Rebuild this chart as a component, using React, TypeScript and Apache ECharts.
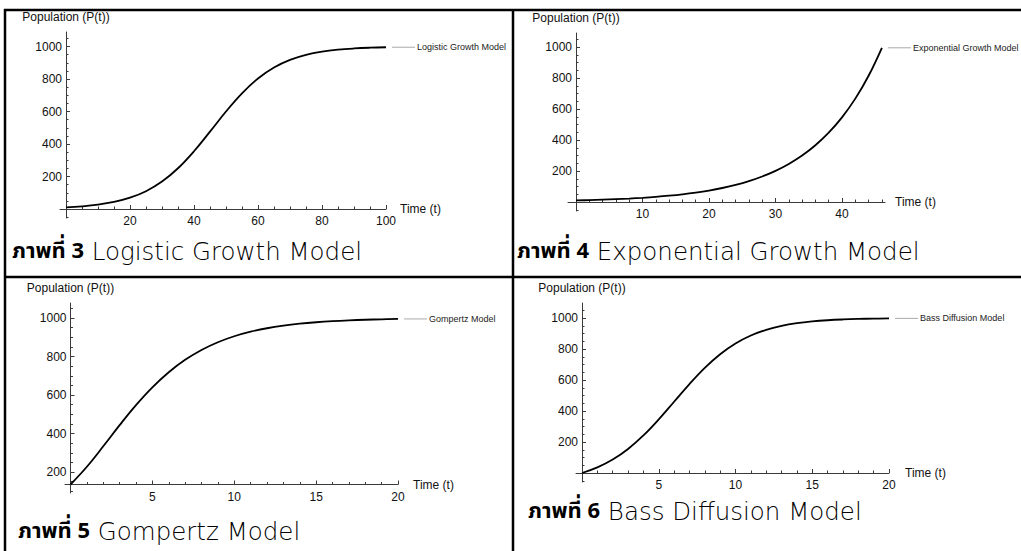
import React, { useEffect, useRef } from "react";
import * as echarts from "echarts";

// ---------- data ----------
const logisticT = [0, 5, 10, 15, 20, 25, 30, 35, 40, 45, 50, 55, 60, 65, 70, 75, 80, 85, 90, 95, 100];
const logisticP = [10, 16.4, 26.7, 43.3, 69.4, 109.6, 168.7, 250.6, 355.4, 476.2, 599.9, 711.9, 803.0, 870.4, 917.2, 948.1, 967.9, 980.3, 987.9, 992.6, 995.5];

const expT = [0, 2, 4, 6, 8, 10, 12, 14, 16, 18, 20, 22, 24, 26, 28, 30, 32, 34, 36, 38, 40, 42, 44, 46];
const expP = [10, 12.2, 14.9, 18.2, 22.3, 27.2, 33.2, 40.6, 49.5, 60.5, 73.9, 90.3, 110.2, 134.6, 164.5, 200.9, 245.3, 299.6, 366.0, 447.0, 546.0, 666.9, 814.5, 994.8];

const gompertzT = [0, 1, 2, 3, 4, 5, 6, 7, 8, 9, 10, 11, 12, 13, 14, 15, 16, 17, 18, 19, 20];
const gompertzP = [135.3, 227.3, 333.7, 443.5, 547.5, 640.0, 718.5, 782.8, 834.1, 874.2, 905.2, 928.9, 946.8, 960.3, 970.5, 978.0, 983.7, 987.9, 991.0, 993.3, 995.1];

const bassT = [0, 1, 2, 3, 4, 5, 6, 7, 8, 9, 10, 11, 12, 13, 14, 15, 16, 17, 18, 19, 20];
const bassP = [0, 36.1, 86.8, 155.1, 242.3, 346.1, 459.8, 573.7, 678.1, 766.1, 835.3, 886.8, 923.6, 949.0, 966.3, 977.8, 985.5, 990.5, 993.8, 996.0, 997.4];

// tick labels
const yMajor = [200, 400, 600, 800, 1000];
const logisticXMajor = [20, 40, 60, 80, 100];
const expXMajor = [10, 20, 30, 40];
const gompertzXMajor = [5, 10, 15, 20];
const bassXMajor = [5, 10, 15, 20];

const modelNames = ["Logistic Growth Model", "Exponential Growth Model", "Gompertz Model", "Bass Diffusion Model"];
const figureLabels = ["ภาพที่ 3", "ภาพที่ 4", "ภาพที่ 5", "ภาพที่ 6"];
const xAxisTitle = "Time (t)";
const yAxisTitle = "Population (P(t))";

// ---------- layout (pixels) ----------
const layouts = [
  { L: 60, R: 386, T: 32, B: 218, ox: 0, oxPx: 66, xRef: 100, xRefPx: 386, oy: 0, oyPx: 209, yRef: 1000, yRefPx: 46.5, nameGap: 14, xStep: 5, yStep: 50, capX: 12, capY: 251 },
  { L: 568, R: 885, T: 33, B: 211, ox: 0, oxPx: 576, xRef: 40, xRefPx: 842, oy: 0, oyPx: 202, yRef: 1000, yRefPx: 47, nameGap: 10, xStep: 2, yStep: 50, capX: 517, capY: 251 },
  { L: 65, R: 398, T: 303, B: 493, ox: 0, oxPx: 70.5, xRef: 20, xRefPx: 398, oy: 135.3, oyPx: 484.5, yRef: 1000, yRefPx: 318, nameGap: 15, xStep: 1, yStep: 50, capX: 18, capY: 531 },
  { L: 576, R: 889, T: 303, B: 482, ox: 0, oxPx: 582, xRef: 20, xRefPx: 889, oy: 0, oyPx: 473, yRef: 1000, yRefPx: 318, nameGap: 16, xStep: 1, yStep: 50, capX: 528, capY: 511 },
];

const seriesT = [logisticT, expT, gompertzT, bassT];
const seriesP = [logisticP, expP, gompertzP, bassP];
const xMajors = [logisticXMajor, expXMajor, gompertzXMajor, bassXMajor];

const AXIS_FONT = "'Liberation Sans', Arial, Helvetica, sans-serif";
const THAI_FONT = "'Noto Sans Thai', 'Noto Sans Thai UI', 'Leelawadee UI', Tahoma, sans-serif";
const LATIN_CAP_FONT = "'DejaVu Sans', 'Open Sans', sans-serif";

function valAt(o: number, oPx: number, ref: number, refPx: number, px: number) {
  const s = (refPx - oPx) / (ref - o);
  return o + (px - oPx) / s;
}

function minorTicks(min: number, max: number, step: number, majors: number[]) {
  const out: number[] = [];
  const start = Math.ceil(min / step) * step;
  for (let v = start; v <= max + 1e-9; v += step) {
    const r = Math.round(v * 1000) / 1000;
    if (r === 0) continue;
    if (majors.some((m) => Math.abs(m - r) < 1e-6)) continue;
    out.push(r);
  }
  return out;
}

export default function App() {
  const ref = useRef<HTMLDivElement>(null);

  useEffect(() => {
    if (!ref.current) return;
    const chart = echarts.init(ref.current, undefined, { renderer: "svg" });

    const grids: any[] = [];
    const xAxes: any[] = [];
    const yAxes: any[] = [];
    const series: any[] = [];

    layouts.forEach((l, i) => {
      const xmin = valAt(l.ox, l.oxPx, l.xRef, l.xRefPx, l.L);
      const xmax = valAt(l.ox, l.oxPx, l.xRef, l.xRefPx, l.R);
      const ymin = valAt(l.oy, l.oyPx, l.yRef, l.yRefPx, l.B);
      const ymax = valAt(l.oy, l.oyPx, l.yRef, l.yRefPx, l.T);
      const xOff = -(l.B - l.oyPx);
      const yOff = -(l.oxPx - l.L);
      grids.push({ left: l.L, top: l.T, width: l.R - l.L, height: l.B - l.T, containLabel: false, outerBoundsMode: "none" });

      const common = { type: "value", gridIndex: i, splitLine: { show: false }, scale: true };
      const xMaj = xMajors[i];
      xAxes.push({
        ...common, position: "bottom", min: xmin, max: xmax, offset: xOff,
        axisLine: { show: true, onZero: false, lineStyle: { color: "#3a3a3a", width: 1 } },
        axisTick: { show: true, inside: true, length: 4, customValues: xMaj, lineStyle: { color: "#3a3a3a", width: 1 } },
        axisLabel: { show: true, customValues: xMaj, margin: 6, color: "#111", fontSize: 12, fontFamily: AXIS_FONT, formatter: (v: number) => String(v) },
        name: xAxisTitle, nameLocation: "end", nameGap: l.nameGap,
        nameTextStyle: { color: "#111", fontSize: 12, fontFamily: AXIS_FONT, verticalAlign: "middle", align: "left" },
      });
      xAxes.push({
        ...common, position: "bottom", min: xmin, max: xmax, offset: xOff,
        axisLine: { show: false, onZero: false },
        axisTick: { show: true, inside: true, length: 2.5, customValues: minorTicks(xmin, xmax, l.xStep, xMaj), lineStyle: { color: "#3a3a3a", width: 1 } },
        axisLabel: { show: false },
      });
      yAxes.push({
        ...common, position: "left", min: ymin, max: ymax, offset: yOff,
        axisLine: { show: true, onZero: false, lineStyle: { color: "#3a3a3a", width: 1 } },
        axisTick: { show: true, inside: true, length: 4, customValues: yMajor, lineStyle: { color: "#3a3a3a", width: 1 } },
        axisLabel: { show: true, customValues: yMajor, margin: 4, color: "#111", fontSize: 12, fontFamily: AXIS_FONT, formatter: (v: number) => String(v) },
        name: yAxisTitle, nameLocation: "end", nameGap: 9,
        nameTextStyle: { color: "#111", fontSize: 12, fontFamily: AXIS_FONT },
      });
      yAxes.push({
        ...common, position: "left", min: ymin, max: ymax, offset: yOff,
        axisLine: { show: false, onZero: false },
        axisTick: { show: true, inside: true, length: 2.5, customValues: minorTicks(ymin, ymax, l.yStep, yMajor), lineStyle: { color: "#3a3a3a", width: 1 } },
        axisLabel: { show: false },
      });

      const t = seriesT[i];
      const p = seriesP[i];
      series.push({
        type: "line", name: modelNames[i], xAxisIndex: 2 * i, yAxisIndex: 2 * i,
        data: t.map((x, k) => [x, p[k]]),
        showSymbol: false, smooth: 0.4, clip: false,
        lineStyle: { color: "#000", width: 1.8 }, itemStyle: { color: "#000" },
      });
    });

    chart.setOption({
      animation: false,
      backgroundColor: "#fff",
      grid: grids,
      xAxis: xAxes,
      yAxis: yAxes,
      series,
    });

    const graphics: any[] = [];
    // table borders
    const border = (x1: number, y1: number, x2: number, y2: number) => ({
      type: "line", silent: true, shape: { x1, y1, x2, y2 }, style: { stroke: "#000", lineWidth: 2.5 },
    });
    graphics.push(border(4, 10, 1021, 10));
    graphics.push(border(5, 9, 5, 551));
    graphics.push(border(513, 9, 513, 551));
    graphics.push(border(4, 277, 1021, 277));

    layouts.forEach((l, i) => {
      const t = seriesT[i];
      const p = seriesP[i];
      const pt = chart.convertToPixel({ seriesIndex: i }, [t[t.length - 1], p[p.length - 1]]) as number[];
      graphics.push({
        type: "line", silent: true,
        shape: { x1: pt[0] + 6, y1: pt[1], x2: pt[0] + 29, y2: pt[1] },
        style: { stroke: "#aaaaaa", lineWidth: 1 },
      });
      graphics.push({
        type: "text", silent: true, x: pt[0] + 31, y: pt[1],
        style: { text: modelNames[i], fontSize: 9, fontFamily: AXIS_FONT, fill: "#222", verticalAlign: "middle", align: "left" },
      });
      // caption: bold Thai figure label + light model name
      graphics.push({
        type: "text", silent: true, x: l.capX, y: l.capY,
        style: {
          text: `{b|${figureLabels[i]}}{r| ${modelNames[i]}}`,
          verticalAlign: "middle", align: "left",
          rich: {
            b: { fontSize: 22, fontWeight: "bold", fontFamily: THAI_FONT, fill: "#000" },
            r: { fontSize: 24.5, fontWeight: 300, fontFamily: LATIN_CAP_FONT, fill: "#000" },
          },
          fontSize: 22, fontFamily: THAI_FONT, fill: "#000",
        },
      });
    });

    chart.setOption({ graphic: graphics });

    return () => chart.dispose();
  }, []);

  return (
    <div
      ref={ref}
      style={{ position: "absolute", left: 0, top: 0, width: 1021, height: 551, background: "#fff" }}
    />
  );
}
